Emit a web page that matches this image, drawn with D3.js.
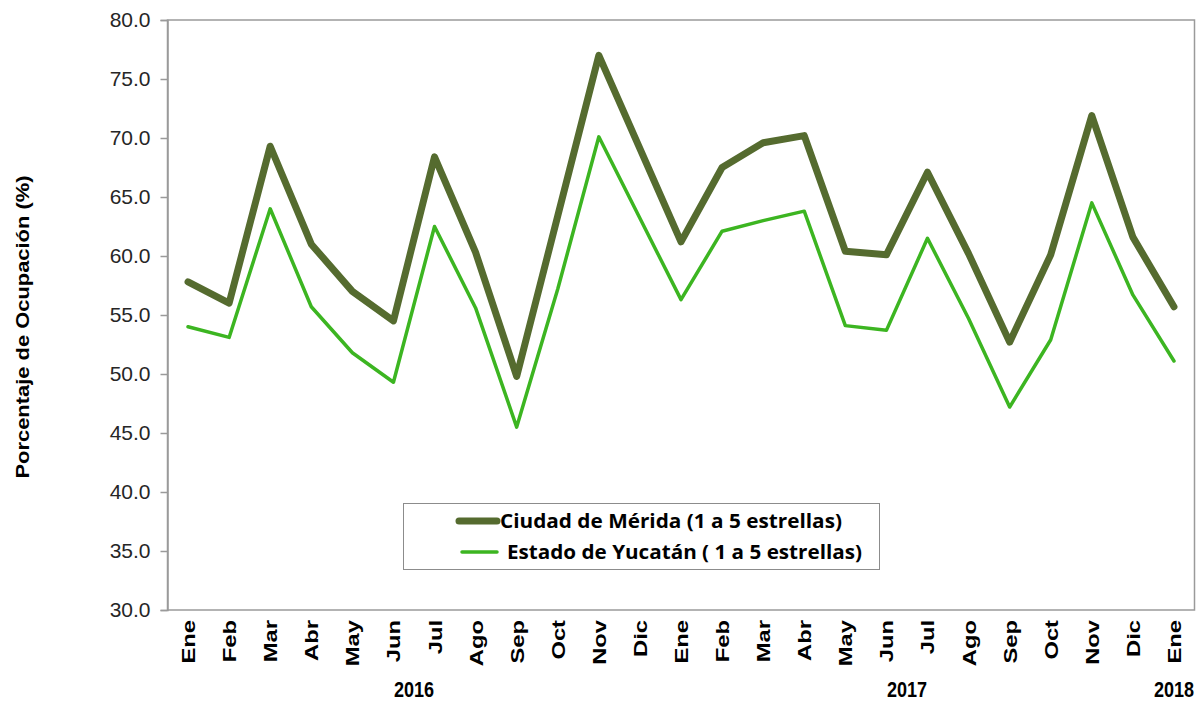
<!DOCTYPE html>
<html>
<head>
<meta charset="utf-8">
<script src="https://cdn.jsdelivr.net/npm/d3@7"></script>
<style>
  body { margin: 0; background: #fff; }
  svg { display: block; }
</style>
</head>
<body>
<svg id="chart" width="1200" height="702"></svg>
<script>
// Months (Ene 2016 .. Ene 2018)
const months = ["Ene","Feb","Mar","Abr","May","Jun","Jul","Ago","Sep","Oct","Nov","Dic",
                "Ene","Feb","Mar","Abr","May","Jun","Jul","Ago","Sep","Oct","Nov","Dic","Ene"];
const years = [
  { label: "2016", from: 0, to: 11 },
  { label: "2017", from: 12, to: 23 },
  { label: "2018", from: 24, to: 24 }
];
const merida = [57.8, 56.0, 69.3, 61.0, 57.0, 54.5, 68.4, 60.3, 49.8, 63.4, 77.0, 69.1,
                61.2, 67.5, 69.6, 70.2, 60.4, 60.1, 67.1, 60.2, 52.7, 60.1, 71.9, 61.6, 55.7];
const yucatan = [54.0, 53.1, 64.0, 55.7, 51.8, 49.3, 62.5, 55.6, 45.5, 57.2, 70.1, 63.2,
                 56.3, 62.1, 63.0, 63.8, 54.1, 53.7, 61.5, 54.7, 47.2, 52.9, 64.5, 56.7, 51.1];
const yTicks = [30, 35, 40, 45, 50, 55, 60, 65, 70, 75, 80];

const series = [
  { name: "Ciudad de Mérida (1 a 5 estrellas)", values: merida, color: "#556b2f", width: 7 },
  { name: "Estado de Yucatán ( 1 a 5 estrellas)", values: yucatan, color: "#3cb521", width: 3.5 }
];

const svg = d3.select("#chart");
const plot = { left: 167.5, right: 1194.5, top: 20, bottom: 610 };

const x = d3.scaleBand()
  .domain(d3.range(months.length))
  .range([plot.left, plot.right]);
const y = d3.scaleLinear()
  .domain([30, 80])
  .range([plot.bottom, plot.top]);

// Plot border
svg.append("rect")
  .attr("x", plot.left)
  .attr("y", plot.top)
  .attr("width", plot.right - plot.left)
  .attr("height", plot.bottom - plot.top)
  .attr("fill", "none")
  .attr("stroke", "#9a9a9a")
  .attr("stroke-width", 1.5);

// Y axis
const yAxis = svg.append("g")
  .attr("transform", `translate(${plot.left},0)`)
  .call(d3.axisLeft(y).tickValues(yTicks).tickFormat(d3.format(".1f")).tickSizeOuter(0).tickSize(7).tickPadding(10));
yAxis.select(".domain").attr("stroke", "#9a9a9a").attr("stroke-width", 1.5);
yAxis.selectAll(".tick line").attr("stroke", "#9a9a9a").attr("stroke-width", 1.5);
yAxis.selectAll(".tick text")
  .attr("font-family", "'Liberation Sans', Arial, sans-serif")
  .attr("font-size", 21)
  .attr("fill", "#262626");

svg.append("text")
  .attr("transform", `translate(29,${(plot.top + plot.bottom) / 2 + 12}) rotate(-90)`)
  .attr("text-anchor", "middle")
  .attr("font-family", "'Liberation Sans', Arial, sans-serif")
  .attr("font-weight", "bold")
  .attr("font-size", 19)
  .attr("textLength", 303)
  .attr("lengthAdjust", "spacingAndGlyphs")
  .attr("fill", "#000")
  .text("Porcentaje de Ocupación (%)");

// Month labels (stretched along the text, like the source image)
svg.append("g")
  .selectAll("text")
  .data(months)
  .join("text")
  .attr("transform", (d, i) => `translate(${x(i) + x.bandwidth() / 2 + 7},620) rotate(-90) scale(1.25,1)`)
  .attr("text-anchor", "end")
  .attr("font-family", "'Liberation Sans', Arial, sans-serif")
  .attr("font-weight", "bold")
  .attr("font-size", 19)
  .attr("fill", "#000")
  .text(d => d);

// Year labels (narrow, tall digits)
svg.append("g")
  .selectAll("text")
  .data(years)
  .join("text")
  .attr("transform", d => `translate(${(x(d.from) + x(d.to) + x.bandwidth()) / 2},697) scale(0.82,1)`)
  .attr("text-anchor", "middle")
  .attr("font-family", "'Liberation Sans', Arial, sans-serif")
  .attr("font-weight", "bold")
  .attr("font-size", 22)
  .attr("fill", "#000")
  .text(d => d.label);

// Lines
const line = d3.line()
  .x((d, i) => x(i) + x.bandwidth() / 2)
  .y(d => y(d));

svg.append("g")
  .selectAll("path")
  .data(series)
  .join("path")
  .attr("d", d => line(d.values))
  .attr("fill", "none")
  .attr("stroke", d => d.color)
  .attr("stroke-width", d => d.width)
  .attr("stroke-linejoin", "round")
  .attr("stroke-linecap", "round");

// Legend
const legend = svg.append("g");
legend.append("rect")
  .attr("x", 403.5)
  .attr("y", 503.5)
  .attr("width", 476)
  .attr("height", 66)
  .attr("fill", "#fff")
  .attr("stroke", "#8c8c8c")
  .attr("stroke-width", 1);

const rows = legend.selectAll(".legend-row")
  .data(series)
  .join("g")
  .attr("class", "legend-row")
  .attr("transform", (d, i) => `translate(0,${521 + i * 31})`);

rows.append("line")
  .attr("x1", (d, i) => i === 0 ? 459 : 462)
  .attr("x2", 497)
  .attr("stroke", d => d.color)
  .attr("stroke-width", d => d.width)
  .attr("stroke-linecap", "round");

rows.append("text")
  .attr("x", (d, i) => i === 0 ? 500 : 507)
  .attr("y", 0)
  .attr("dy", "0.36em")
  .attr("font-family", "'Open Sans', Lato, sans-serif")
  .attr("font-weight", "bold")
  .attr("font-size", 19)
  .attr("textLength", (d, i) => i === 0 ? 342 : 355)
  .attr("lengthAdjust", "spacingAndGlyphs")
  .attr("fill", "#000")
  .text(d => d.name);
</script>
</body>
</html>
